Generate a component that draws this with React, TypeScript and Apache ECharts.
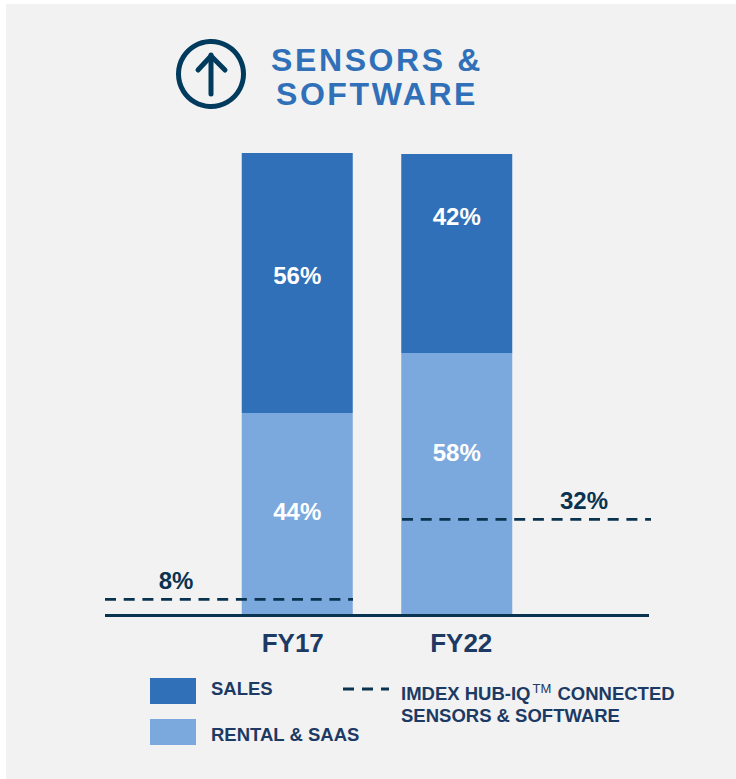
import React, { useEffect, useRef } from "react";
import * as echarts from "echarts";

const categories = ["FY17", "FY22"];
const salesName = "SALES";
const rentalName = "RENTAL & SAAS";
const hubName = "IMDEX HUB-IQ CONNECTED SENSORS & SOFTWARE";
// Bar heights as drawn in the picture (share of the full bar)
const salesHeights = [56.3, 43.1];
const rentalHeights = [43.7, 56.7];
const salesLabels = ["56%", "42%"];
const rentalLabels = ["44%", "58%"];
// Dashed HUB-IQ levels as drawn, in the bars' scale
const hubFy17 = [[0, 3.4], [71, 3.4], [248, 3.4]];
const hubFy22 = [[297, 20.7], [479, 20.7], [547, 20.7]];
const hubLabels = ["8%", "32%"];

const DARK_BLUE = "#2f70b8";
const LIGHT_BLUE = "#7ba9dd";
const NAVY = "#0a3350";
const TEXT_NAVY = "#1c3a63";
const FONT = '"Liberation Sans", Arial, sans-serif';
const DASHES_ICON = "path://M0 0H11V3H0ZM19 0H30V3H19ZM38 0H46V3H38Z";

const labelStyle = { show: true, position: "inside", color: "#fff", fontFamily: FONT, fontWeight: "bold", fontSize: 24 };
const hubLine = { color: NAVY, width: 2.8, type: [11, 7.7], cap: "butt" };

function hubSeries(data: number[][], text: string) {
  return {
    name: hubName,
    type: "line",
    xAxisIndex: 1,
    yAxisIndex: 1,
    clip: false,
    z: 5,
    symbol: "circle",
    symbolSize: 0,
    showSymbol: true,
    showAllSymbol: true,
    lineStyle: hubLine,
    itemStyle: { color: NAVY },
    data: data.map((d, i) =>
      i === 1
        ? {
            value: d,
            label: { show: true, position: "top", distance: 7, formatter: text, color: NAVY, fontFamily: FONT, fontWeight: "bold", fontSize: 24 },
          }
        : { value: d }
    ),
  };
}

export default function App() {
  const ref = useRef<HTMLDivElement>(null);
  useEffect(() => {
    const chart = echarts.init(ref.current!, null, { renderer: "svg" });
    const legendText = { fontFamily: FONT, fontWeight: "bold", fontSize: 18.5, color: TEXT_NAVY };
    chart.setOption({
      animation: false,
      backgroundColor: "transparent",
      title: {
        text: "SENSORS &\nSOFTWARE",
        left: 372,
        top: 38,
        textAlign: "center",
        textStyle: { fontFamily: FONT, fontWeight: "bold", fontSize: 32, lineHeight: 34, color: DARK_BLUE },
      },
      graphic: [
        { type: "circle", shape: { cx: 211, cy: 74, r: 32.5 }, style: { fill: "none", stroke: "#003a5d", lineWidth: 5 } },
        { type: "polyline", shape: { points: [[211, 94], [211, 55]] }, style: { fill: "none", stroke: "#003a5d", lineWidth: 5, lineCap: "round" } },
        { type: "polyline", shape: { points: [[198, 70], [211, 56], [225, 70]] }, style: { fill: "none", stroke: "#003a5d", lineWidth: 5, lineCap: "round", lineJoin: "round" } },
      ],
      legend: [
        {
          data: [salesName], left: 150, top: 678, padding: 0, itemWidth: 46, itemHeight: 26, icon: "rect",
          formatter: "{a|{name}}",
          textStyle: { ...legendText, padding: [0, 0, 0, 10], rich: { a: { ...legendText, padding: [0, 0, 5, 0] } } },
        },
        {
          data: [rentalName], left: 150, top: 719, padding: 0, itemWidth: 46, itemHeight: 26, icon: "rect",
          formatter: "{a|{name}}",
          textStyle: { ...legendText, padding: [0, 0, 0, 10], rich: { a: { ...legendText, padding: [5, 0, 0, 0] } } },
        },
        {
          data: [hubName], left: 343, top: 652, padding: 0, itemWidth: 46, itemHeight: 3, icon: DASHES_ICON,
          formatter: () => "{a|IMDEX HUB-IQ}{tm|TM}{a| CONNECTED}\n{a|SENSORS & SOFTWARE}",
          textStyle: {
            ...legendText,
            padding: [30, 0, 0, 7],
            lineHeight: 22,
            rich: {
              a: { ...legendText, lineHeight: 22 },
              tm: { fontFamily: FONT, fontSize: 13, fontWeight: "normal", color: TEXT_NAVY, verticalAlign: "top", lineHeight: 22, padding: [0, 1, 0, 2] },
            },
          },
        },
      ],
      grid: [
        { left: 217.5, width: 319, top: 153, height: 462 },
        { left: 105, width: 544, top: 153, height: 462 },
      ],
      xAxis: [
        {
          type: "category",
          gridIndex: 0,
          data: [
            { value: categories[0], textStyle: { padding: [0, 9, 0, 0] } },
            { value: categories[1], textStyle: { padding: [0, 0, 0, 9] } },
          ],
          axisLine: { show: false },
          axisTick: { show: false },
          axisLabel: { color: TEXT_NAVY, fontFamily: FONT, fontWeight: "bold", fontSize: 26, margin: 15 },
        },
        {
          type: "value",
          gridIndex: 1,
          min: 0,
          max: 544,
          splitLine: { show: false },
          axisTick: { show: false },
          axisLabel: { show: false },
          axisLine: { show: true, lineStyle: { color: NAVY, width: 2.8, cap: "butt" } },
          z: 4,
        },
      ],
      yAxis: [
        { type: "value", gridIndex: 0, min: 0, max: 100, show: false },
        { type: "value", gridIndex: 1, min: 0, max: 100, show: false },
      ],
      series: [
        {
          name: rentalName,
          type: "bar",
          stack: "total",
          barWidth: 111,
          itemStyle: { color: LIGHT_BLUE },
          data: rentalHeights.map((v, i) => ({
            value: v,
            label: { ...labelStyle, formatter: rentalLabels[i], offset: [0, [-3, -32][i]] },
          })),
        },
        {
          name: salesName,
          type: "bar",
          stack: "total",
          barWidth: 111,
          itemStyle: { color: DARK_BLUE },
          data: salesHeights.map((v, i) => ({
            value: v,
            label: { ...labelStyle, formatter: salesLabels[i], offset: [0, [-8, -37][i]] },
          })),
        },
        hubSeries(hubFy17, hubLabels[0]),
        hubSeries(hubFy22, hubLabels[1]),
      ],
    });
    return () => chart.dispose();
  }, []);
  return (
    <div style={{ position: "fixed", left: 0, top: 0, width: 736, height: 779, background: "#fff" }}>
      <style>{`#titlechart text[fill="${DARK_BLUE}"]{letter-spacing:2.6px}`}</style>
      <div style={{ position: "absolute", left: 6, top: 4, right: 0, bottom: 0, background: "#f2f2f2" }} />
      <div id="titlechart" ref={ref} style={{ position: "absolute", left: 0, top: 0, width: 736, height: 779 }} />
    </div>
  );
}
